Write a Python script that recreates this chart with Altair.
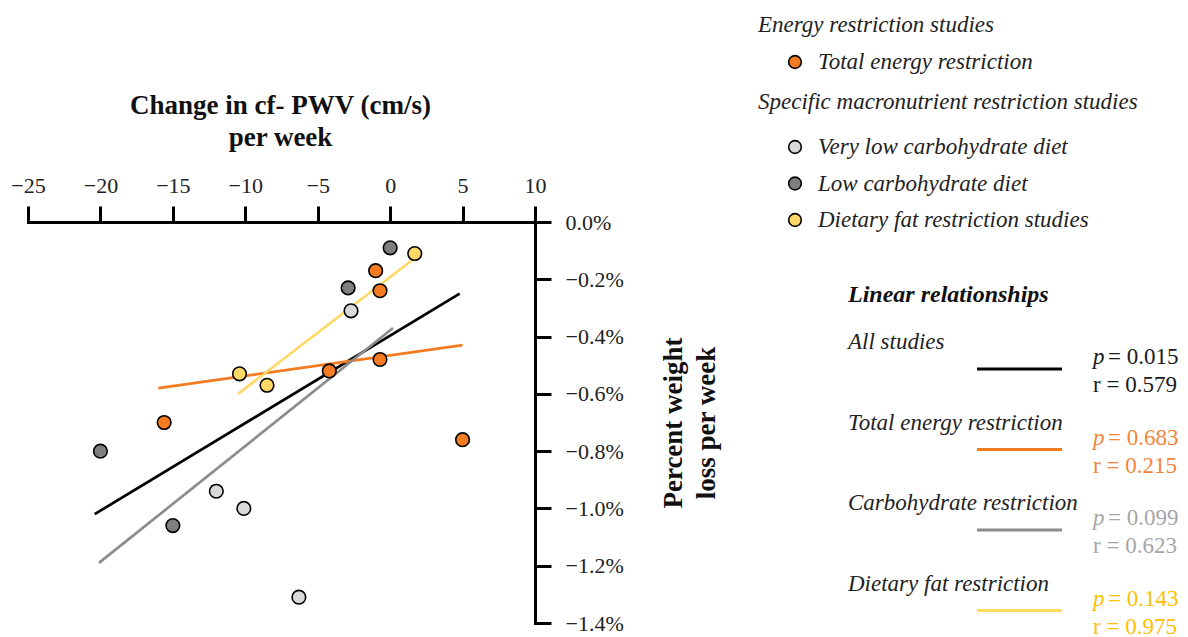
import altair as alt
import pandas as pd

FONT = "Liberation Serif"

# ---------------- data ----------------
point_groups = ["Total energy restriction", "Very low carbohydrate diet",
                "Low carbohydrate diet", "Dietary fat restriction studies"]
point_colors = ["#F47B20", "#D9D9D9", "#7F7F7F", "#FFD966"]

ter_x = [-1.0, -0.7, -0.7, -4.2, -15.6, 5.0]
ter_y = [-0.17, -0.24, -0.48, -0.52, -0.70, -0.76]
vlc_x = [-2.7, -12.0, -10.1, -6.3]
vlc_y = [-0.31, -0.94, -1.00, -1.31]
lc_x = [0.0, -2.9, -20.0, -15.0]
lc_y = [-0.09, -0.23, -0.80, -1.06]
fat_x = [1.7, -10.4, -8.5]
fat_y = [-0.11, -0.53, -0.57]

fit_names = ["All studies", "Total energy restriction",
             "Carbohydrate restriction", "Dietary fat restriction"]
fit_x0 = [-20.4, -16.0, -20.1, -10.5]
fit_y0 = [-1.02, -0.58, -1.19, -0.60]
fit_x1 = [4.8, 5.0, 0.2, 1.6]
fit_y1 = [-0.25, -0.43, -0.37, -0.13]
fit_p = ["0.015", "0.683", "0.099", "0.143"]
fit_r = ["0.579", "0.215", "0.623", "0.975"]
line_colors = ["#000000", "#F47B20", "#8C8C8C", "#FFD966"]
stat_colors = ["#1A1A1A", "#F4843A", "#A6A6A6", "#FFC000"]

x_ticks = [-25, -20, -15, -10, -5, 0, 5, 10]
y_ticks = [0.0, -0.2, -0.4, -0.6, -0.8, -1.0, -1.2, -1.4]

headers = ["Energy restriction studies", "Specific macronutrient restriction studies"]

# ---------------- tables ----------------
rows = []
for g, xs, ys in zip(point_groups, [ter_x, vlc_x, lc_x, fat_x], [ter_y, vlc_y, lc_y, fat_y]):
    for xv, yv in zip(xs, ys):
        rows.append({"group": g, "x": xv, "y": yv})
pts = pd.DataFrame(rows)

lrows = []
for i, n in enumerate(fit_names):
    lrows.append({"fit": n, "x": fit_x0[i], "y": fit_y0[i], "o": 0})
    lrows.append({"fit": n, "x": fit_x1[i], "y": fit_y1[i], "o": 1})
lines = pd.DataFrame(lrows)

leg_pts = pd.DataFrame({"group": point_groups, "i": list(range(len(point_groups)))})
leg_hdr = pd.DataFrame({"t": headers, "i": list(range(len(headers)))})
leg_fit = pd.DataFrame({"fit": fit_names, "p": fit_p, "r": fit_r,
                        "i": list(range(len(fit_names)))})
leg_title = pd.DataFrame({"t": ["Linear relationships"]})

# ---------------- scales / axes ----------------
fill_scale = alt.Scale(domain=point_groups, range=point_colors)
stroke_scale = alt.Scale(domain=fit_names, range=line_colors)
text_scale = alt.Scale(domain=fit_names, range=stat_colors)

axis_common = dict(
    grid=False, domainColor="black", domainWidth=3, domainCap="square",
    tickColor="black", tickWidth=3, tickSize=16,
    labelFont=FONT, labelFontSize=22, labelColor="#222222",
    labelOverlap=False, labelFlush=False,
    titleFont=FONT, titleFontSize=27, titleFontWeight="bold", titleColor="#111111",
    titleAlign="center", titleBaseline="middle",
)

x_axis = alt.Axis(orient="top", values=x_ticks, format="d", labelPadding=9,
                  title=["Change in cf- PWV (cm/s)", "per week"],
                  titleX=252, titleY=-117, titleLineHeight=32, labelAngle=0,
                  **axis_common)
y_axis = alt.Axis(orient="right", values=y_ticks, labelPadding=14,
                  labelExpr="format(datum.value, '.1f') + '%'",
                  labelAlign="left", labelBaseline="middle",
                  title=["Percent weight", "loss per week"],
                  titleAngle=270, titleX=138, titleY=200.5, titleLineHeight=33,
                  **axis_common)

x_enc = alt.X("x:Q", scale=alt.Scale(domain=[-25, 10], nice=False, zero=False), axis=x_axis)
y_enc = alt.Y("y:Q", scale=alt.Scale(domain=[-1.4, 0], nice=False, zero=False), axis=y_axis)

# ---------------- plot layers ----------------
fit_lines = alt.Chart(lines).mark_line(strokeWidth=2.7).encode(
    x=x_enc, y=y_enc, order="o:Q",
    detail="fit:N",
    stroke=alt.Stroke("fit:N", scale=stroke_scale, legend=None),
)

points = alt.Chart(pts).mark_circle(size=185, stroke="black", strokeWidth=1.6, opacity=1).encode(
    x=x_enc, y=y_enc,
    fill=alt.Fill("group:N", scale=fill_scale, legend=None),
)

# ---------------- legend (point categories) ----------------
leg_y = "datum.i == 0 ? -160 : -75 + 36.5 * (datum.i - 1)"

leg_hdr_txt = alt.Chart(leg_hdr).transform_calculate(
    ly="datum.i == 0 ? -197 : -120"
).mark_text(align="left", baseline="middle", font=FONT, fontSize=23,
            fontStyle="italic", color="#222222").encode(
    x=alt.value(730), y=alt.Y("ly:Q", scale=None), text="t:N")

leg_sym = alt.Chart(leg_pts).transform_calculate(ly=leg_y).mark_circle(
    size=160, stroke="black", strokeWidth=1.6, opacity=1).encode(
    x=alt.value(767), y=alt.Y("ly:Q", scale=None),
    fill=alt.Fill("group:N", scale=fill_scale, legend=None))

leg_lab = alt.Chart(leg_pts).transform_calculate(ly=leg_y).mark_text(
    align="left", baseline="middle", font=FONT, fontSize=23,
    fontStyle="italic", color="#222222").encode(
    x=alt.value(790), y=alt.Y("ly:Q", scale=None), text="group:N")

# ---------------- legend (linear relationships) ----------------
lin_title = alt.Chart(leg_title).mark_text(
    align="left", baseline="middle", font=FONT, fontSize=24,
    fontStyle="italic", fontWeight="bold", color="#111111").encode(
    x=alt.value(820), y=alt.value(73), text="t:N")

fit_base = alt.Chart(leg_fit).transform_calculate(
    ly="120 + 80.5 * datum.i",
    ll="120 + 80.5 * datum.i + 27",
    lp="120 + 80.5 * datum.i + 15",
    lr="120 + 80.5 * datum.i + 43",
    ptag="'p'",
    ptxt="'= ' + datum.p",
    rtxt="'r = ' + datum.r",
)

fit_name_txt = fit_base.mark_text(
    align="left", baseline="middle", font=FONT, fontSize=23,
    fontStyle="italic", color="#222222").encode(
    x=alt.value(820), y=alt.Y("ly:Q", scale=None), text="fit:N")

fit_sample = fit_base.mark_rule(strokeWidth=3).encode(
    x=alt.value(949), x2=alt.value(1034), y=alt.Y("ll:Q", scale=None),
    stroke=alt.Stroke("fit:N", scale=stroke_scale, legend=None))

fit_p_tag = fit_base.mark_text(
    align="left", baseline="middle", font=FONT, fontSize=23, fontStyle="italic").encode(
    x=alt.value(1065), y=alt.Y("lp:Q", scale=None), text="ptag:N",
    color=alt.Color("fit:N", scale=text_scale, legend=None))

fit_p_val = fit_base.mark_text(
    align="left", baseline="middle", font=FONT, fontSize=23).encode(
    x=alt.value(1080), y=alt.Y("lp:Q", scale=None), text="ptxt:N",
    color=alt.Color("fit:N", scale=text_scale, legend=None))

fit_r_val = fit_base.mark_text(
    align="left", baseline="middle", font=FONT, fontSize=23).encode(
    x=alt.value(1065), y=alt.Y("lr:Q", scale=None), text="rtxt:N",
    color=alt.Color("fit:N", scale=text_scale, legend=None))

chart = alt.layer(
    fit_lines, points,
    leg_hdr_txt, leg_sym, leg_lab,
    lin_title, fit_name_txt, fit_sample, fit_p_tag, fit_p_val, fit_r_val,
).properties(
    width=507, height=401,
    autosize="none",
    padding={"left": 20, "top": 214, "right": 645, "bottom": 14},
    background="white",
).configure_view(strokeWidth=0)

chart.save("out.html", embed_options={"renderer": "svg", "actions": False})
